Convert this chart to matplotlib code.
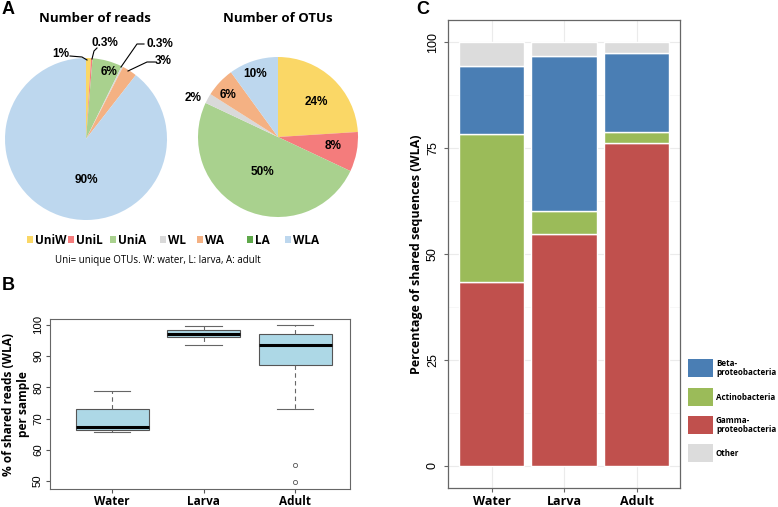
import numpy as np
import matplotlib
matplotlib.use("Agg")
import matplotlib.pyplot as plt
from matplotlib.patches import Rectangle

W, H = 778, 507

# ---- data ----
groups = ["UniW", "UniL", "UniA", "WL", "WA", "LA", "WLA"]
group_colors = ["#FAD766", "#F47C7C", "#A9D18E", "#D9D9D9", "#F4B183", "#5FA84A", "#BDD7EE"]
reads_pct = [1, 0.3, 6, 0.3, 3, 0, 90]
otus_pct = [24, 8, 50, 2, 6, 0, 10]

samples = ["Water", "Larva", "Adult"]
# whisker low, Q1, median, Q3, whisker high
water_box = [65.8, 66.3, 67.3, 73.0, 78.8]
larva_box = [93.5, 96.0, 97.1, 98.5, 99.8]
adult_box = [73.0, 87.0, 93.5, 97.0, 100.0]
adult_outliers = [55.0, 49.5]

taxa = ["Gamma-\nproteobacteria", "Actinobacteria", "Beta-\nproteobacteria", "Other"]
taxa_colors = ["#C0504D", "#9BBB59", "#4A7EB4", "#DCDCDC"]
gamma = [43.5, 54.7, 76.1]
actino = [34.7, 5.4, 2.7]
beta = [16.1, 36.5, 18.6]
other = [5.7, 3.4, 2.6]

plt.rcParams["font.family"] = ["Liberation Sans", "DejaVu Sans"]
fig = plt.figure(figsize=(W / 100, H / 100), dpi=100)


def px_axes(x0, y0, w, h):
    # pixel box (top-left origin) -> figure axes
    return fig.add_axes([x0 / W, 1 - (y0 + h) / H, w / W, h / H])


def fig_text(x, y, s, **kw):
    fig.text(x / W, 1 - y / H, s, **kw)


# ---- panel A: pies ----
def draw_pie(cx, cy, r, vals, title, tx):
    ax = px_axes(cx - r, cy - r, 2 * r, 2 * r)
    ax.pie(vals, colors=group_colors, startangle=90, counterclock=False,
           radius=1, wedgeprops=dict(linewidth=0))
    ax.set_xlim(-1, 1)
    ax.set_ylim(-1, 1)
    ax.set_aspect("equal")
    ax.axis("off")
    fig_text(tx, 18, title, ha="center", va="center", fontsize=9.5,
             fontweight="bold", family="Open Sans")
    return ax


cxL, cyL, rL = 86, 139, 81
cxR, cyR, rR = 278, 137, 80
draw_pie(cxL, cyL, rL, reads_pct, "Number of reads", 95)
draw_pie(cxR, cyR, rR, otus_pct, "Number of OTUs", 278)

lab = dict(ha="center", va="center", fontsize=8.5, fontweight="bold")
fig_text(86, 180, "90%", **lab)
fig_text(109, 72, "6%", **lab)
fig_text(61, 54, "1%", **lab)
fig_text(105, 43, "0.3%", **lab)
fig_text(160, 44, "0.3%", **lab)
fig_text(163, 61, "3%", **lab)
# leader lines
for xs, ys in [([70, 82, 87], [56, 57, 60]),
               ([97, 94, 92], [48, 51, 59]),
               ([144, 137, 121], [44, 44, 67]),
               ([155, 147, 128], [62, 62, 71])]:
    fig.add_artist(plt.Line2D([x / W for x in xs], [1 - y / H for y in ys],
                              color="black", lw=0.8))

fig_text(316, 102, "24%", **lab)
fig_text(333, 146, "8%", **lab)
fig_text(262, 172, "50%", **lab)
fig_text(193, 98, "2%", **lab)
fig_text(228, 95, "6%", **lab)
fig_text(255, 74, "10%", **lab)

legend_x = [27, 68, 110, 160, 197, 247, 285]
for g, c, x in zip(groups, group_colors, legend_x):
    fig.add_artist(Rectangle((x / W, 1 - 243 / H), 6 / W, 7 / H,
                             transform=fig.transFigure, color=c, lw=0))
    fig_text(x + 8, 240, g, ha="left", va="center", fontsize=8.5,
             fontweight="bold", family="Open Sans")
fig_text(158, 261, "Uni= unique OTUs. W: water, L: larva, A: adult",
         ha="center", va="center", fontsize=7, family="Open Sans")

fig_text(2, 10, "A", ha="left", va="center", fontsize=13, fontweight="bold")
fig_text(2, 286, "B", ha="left", va="center", fontsize=13, fontweight="bold")
fig_text(416, 10, "C", ha="left", va="center", fontsize=13, fontweight="bold")

# ---- panel B: boxplot ----
axB = px_axes(50, 319, 300, 170)
stats = []
for name, b in zip(samples, [water_box, larva_box, adult_box]):
    stats.append(dict(label=name, whislo=b[0], q1=b[1], med=b[2], q3=b[3],
                      whishi=b[4], fliers=[]))
stats[2]["fliers"] = adult_outliers
axB.bxp(stats, positions=[1, 2, 3], widths=0.8, patch_artist=True,
        boxprops=dict(facecolor="#ADD8E6", edgecolor="#555555", lw=0.8),
        medianprops=dict(color="black", lw=2.2),
        whiskerprops=dict(color="#666666", lw=0.8, ls=(0, (4, 3))),
        capprops=dict(color="#666666", lw=0.8),
        capwidths=0.4,
        flierprops=dict(marker="o", markersize=3, markerfacecolor="none",
                        markeredgecolor="#555555", markeredgewidth=0.6))
axB.set_xlim(0.32, 3.6)
axB.set_ylim(47.4, 101.9)
axB.set_yticks([50, 60, 70, 80, 90, 100])
axB.tick_params(axis="y", labelrotation=90, labelsize=8.2, length=3, pad=2,
                color="#555555")
axB.tick_params(axis="x", labelsize=8.5, length=3, pad=1, color="#555555")
for t in axB.get_yticklabels():
    t.set_va("center")
axB.set_xticklabels(samples, fontweight="bold", family="Open Sans")
axB.set_ylabel("% of shared reads (WLA)\nper sample", fontsize=8.6,
               fontweight="bold", family="Open Sans",
               linespacing=1.15, multialignment="center")
axB.yaxis.set_label_coords(-0.068, 0.5)
for s in axB.spines.values():
    s.set_color("#666666")
    s.set_linewidth(0.8)

# ---- panel C: stacked bars ----
axC = px_axes(448, 20, 232, 468)
x = np.arange(1, 4)
bottom = np.zeros(3)
for name, vals, c in zip(taxa, [gamma, actino, beta, other], taxa_colors):
    axC.bar(x, vals, bottom=bottom, width=0.9, color=c, edgecolor="white",
            linewidth=1.0, label=name, zorder=2)
    bottom += np.array(vals)
axC.set_xlim(0.4, 3.6)
axC.set_ylim(-5.2, 105.2)
axC.set_yticks([0, 25, 50, 75, 100])
axC.set_yticks([12.5, 37.5, 62.5, 87.5], minor=True)
axC.set_xticks(x)
axC.set_xticklabels(samples, fontweight="bold", family="Open Sans")
axC.grid(True, which="major", color="#EBEBEB", lw=0.8, zorder=0)
axC.grid(True, which="minor", axis="y", color="#F4F4F4", lw=0.5, zorder=0)
axC.set_axisbelow(True)
axC.tick_params(axis="y", labelrotation=90, labelsize=9, length=3, color="#666666")
axC.tick_params(axis="y", which="minor", length=0)
axC.tick_params(axis="x", labelsize=9, length=3, pad=2, color="#666666")
for t in axC.get_yticklabels():
    t.set_va("center")
axC.set_ylabel("Percentage of shared sequences (WLA)", fontsize=9,
               fontweight="bold", family="Open Sans", labelpad=3)
for s in axC.spines.values():
    s.set_color("#666666")
    s.set_linewidth(0.9)

# legend drawn manually to match layout (top to bottom)
leg_order = [2, 1, 0, 3]
leg_y = [368, 397, 425, 453]
for i, yy in zip(leg_order, leg_y):
    fig.add_artist(Rectangle((688 / W, 1 - (yy + 9) / H), 25 / W, 18 / H,
                             transform=fig.transFigure, color=taxa_colors[i], lw=0))
    fig_text(716, yy, taxa[i], ha="left", va="center", fontsize=5.8,
             fontweight="bold", family="Open Sans", linespacing=1.1)

fig.savefig("out.png", dpi=100)
